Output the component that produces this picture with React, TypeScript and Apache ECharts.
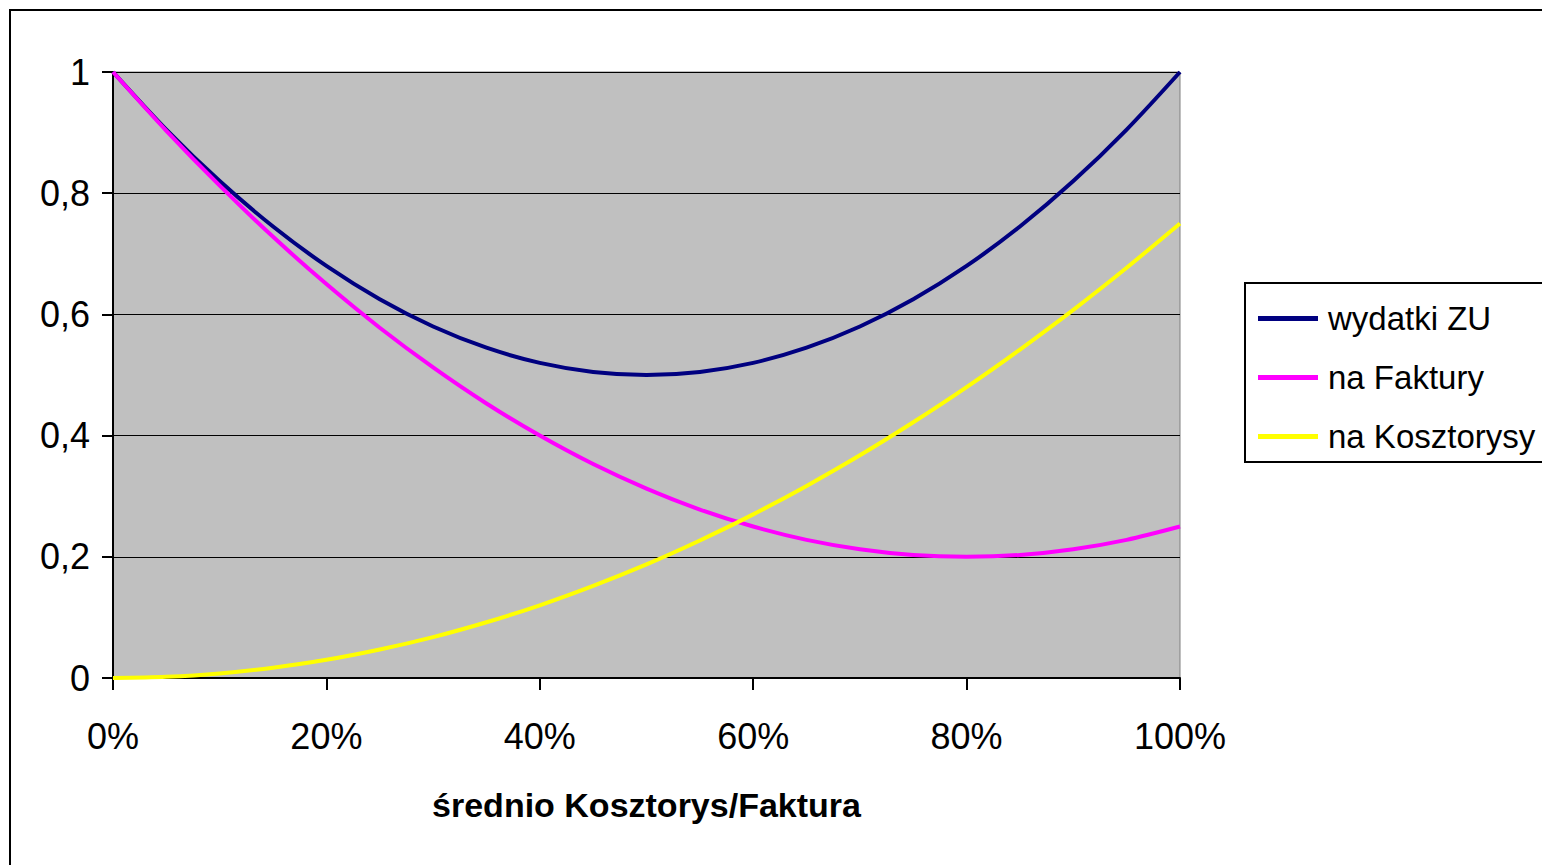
import React, { useEffect, useRef } from "react";
import * as echarts from "echarts";

const xValues = [0, 0.05, 0.1, 0.15, 0.2, 0.25, 0.3, 0.35, 0.4, 0.45, 0.5, 0.55, 0.6, 0.65, 0.7, 0.75, 0.8, 0.85, 0.9, 0.95, 1];
const wydatkiZU = [1, 0.905, 0.82, 0.745, 0.68, 0.625, 0.58, 0.545, 0.52, 0.505, 0.5, 0.505, 0.52, 0.545, 0.58, 0.625, 0.68, 0.745, 0.82, 0.905, 1];
const naFaktury = [1, 0.903, 0.8125, 0.728, 0.65, 0.578, 0.5125, 0.453, 0.4, 0.353, 0.3125, 0.278, 0.25, 0.228, 0.2125, 0.203, 0.2, 0.203, 0.2125, 0.228, 0.25];
const naKosztorysy = [0, 0.002, 0.0075, 0.017, 0.03, 0.047, 0.0675, 0.092, 0.12, 0.152, 0.1875, 0.227, 0.27, 0.317, 0.3675, 0.422, 0.48, 0.542, 0.6075, 0.677, 0.75];
const seriesNames = ["wydatki ZU", "na Faktury", "na Kosztorysy"];
const seriesColors = ["#000080", "#FF00FF", "#FFFF00"];
const xTitle = "średnio Kosztorys/Faktura";

const FONT = "'Liberation Sans', Arial, sans-serif";

export default function App() {
  const ref = useRef<HTMLDivElement>(null);
  useEffect(() => {
    if (!ref.current) return;
    const chart = echarts.init(ref.current, null, { renderer: "svg" });
    const all = [wydatkiZU, naFaktury, naKosztorysy];
    chart.setOption({
      animation: false,
      backgroundColor: "#ffffff",
      grid: {
        left: 113,
        right: 362,
        top: 72,
        bottom: 187,
        show: true,
        backgroundColor: "#C0C0C0",
        borderColor: "#808080",
        borderWidth: 1,
      },
      graphic: [
        {
          type: "rect",
          z: 0,
          shape: { x: 10, y: 10, width: 1700, height: 1000 },
          style: { fill: "none", stroke: "#000", lineWidth: 2 },
        },
        {
          type: "rect",
          z: 1,
          shape: { x: 1245, y: 283, width: 400, height: 179 },
          style: { fill: "#fff", stroke: "#000", lineWidth: 2 },
        },
      ],
      legend: {
        orient: "vertical",
        left: 1258,
        top: 289,
        padding: 0,
        itemGap: 0,
        itemWidth: 60,
        itemHeight: 5,
        icon: "rect",
        z: 5,
        data: seriesNames,
        textStyle: {
          fontFamily: FONT,
          fontSize: 33,
          color: "#000",
          lineHeight: 59,
          padding: [0, 0, 0, 5],
        },
      },
      xAxis: {
        type: "value",
        min: 0,
        max: 1,
        interval: 0.2,
        name: xTitle,
        nameLocation: "middle",
        nameGap: 110,
        nameTextStyle: {
          fontFamily: FONT,
          fontSize: 34,
          fontWeight: "bold",
          color: "#000",
          padding: [0, 0, 0, 0],
        },
        axisLine: { show: true, lineStyle: { color: "#000", width: 2 } },
        axisTick: { show: true, length: 12, lineStyle: { color: "#000", width: 2 } },
        splitLine: { show: false },
        axisLabel: {
          fontFamily: FONT,
          fontSize: 36,
          color: "#000",
          margin: 40,
          formatter: (v: number) => Math.round(v * 100) + "%",
        },
      },
      yAxis: {
        type: "value",
        min: 0,
        max: 1,
        interval: 0.2,
        axisLine: { show: true, lineStyle: { color: "#000", width: 2 } },
        axisTick: { show: true, length: 11, lineStyle: { color: "#000", width: 2 } },
        splitLine: { show: true, lineStyle: { color: "#000", width: 1 } },
        axisLabel: {
          fontFamily: FONT,
          fontSize: 36,
          color: "#000",
          margin: 23,
          formatter: (v: number) => String(Math.round(v * 10) / 10).replace(".", ","),
        },
      },
      series: seriesNames.map((name, i) => ({
        name,
        type: "line",
        data: xValues.map((x, j) => [x, all[i][j]]),
        showSymbol: false,
        symbol: "none",
        smooth: 0.3,
        color: seriesColors[i],
        lineStyle: { color: seriesColors[i], width: 4 },
        z: 3 + i,
      })),
    });
    return () => chart.dispose();
  }, []);
  return (
    <div
      ref={ref}
      style={{ position: "absolute", left: 0, top: 0, width: 1542, height: 865 }}
    />
  );
}
